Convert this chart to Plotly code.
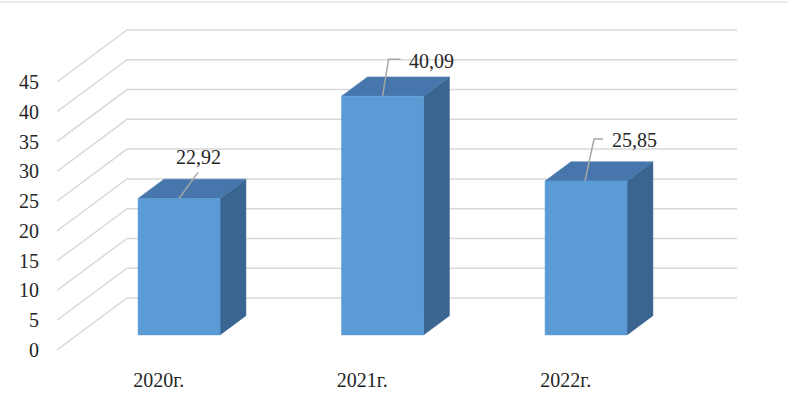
import plotly.graph_objects as go

# ---- data ----
categories = ["2020г.", "2021г.", "2022г."]
values = [22.92, 40.09, 25.85]
value_labels = ["22,92", "40,09", "25,85"]
y_ticks = [0, 5, 10, 15, 20, 25, 30, 35, 40, 45]

# ---- geometry / style constants ----
PX_PER_CAT = 203.5          # pixels per category unit
PX_PER_VAL = 5.956          # pixels per value unit
DEPTH_DX = 70 / PX_PER_CAT  # x shift (data units) for full depth
DEPTH_DY = 52 / PX_PER_VAL  # y shift (data units) for full depth
D_FRONT, D_BACK = 0.29, 0.66
HALF_W = 41 / PX_PER_CAT
X_MIN, X_MAX = -0.5, -0.5 + 680 / PX_PER_CAT
Y_MIN, Y_MAX = -10 / PX_PER_VAL, 350 / PX_PER_VAL

FRONT_C = "#5B9BD5"
TOP_C = "#4676AC"
SIDE_C = "#3B6591"
GRID_C = "#D9D9D9"
TEXT_C = "#262626"
FONT = "Liberation Serif"

# label leader offsets in pixels relative to bar top-front-centre (style/placement)
leader_px = [
    [(0, 0), (19, -26)],
    [(0, 0), (6, -37), (18, -37)],
    [(-1, 0), (8, -42), (17, -42)],
]
label_anchor = [("center", "bottom", 0, 2), ("left", "middle", 6, -2), ("left", "middle", 7, -1)]

fig = go.Figure()


def poly(xs, ys, color):
    fig.add_trace(go.Scatter(
        x=xs + [xs[0]], y=ys + [ys[0]], mode="lines", fill="toself",
        fillcolor=color, line=dict(color=color, width=0.5),
        hoverinfo="skip", showlegend=False))


# walls: left diagonals and back gridlines
for t in y_ticks:
    fig.add_trace(go.Scatter(
        x=[X_MIN, X_MIN + DEPTH_DX, X_MAX],
        y=[t, t + DEPTH_DY, t + DEPTH_DY],
        mode="lines", line=dict(color=GRID_C, width=1.5),
        hoverinfo="skip", showlegend=False))

# bars
for i, v in enumerate(values):
    fx = i + D_FRONT * DEPTH_DX
    fy = D_FRONT * DEPTH_DY
    bx = i + D_BACK * DEPTH_DX
    by = D_BACK * DEPTH_DY
    xl, xr = fx - HALF_W, fx + HALF_W
    bxl, bxr = bx - HALF_W, bx + HALF_W
    # side
    poly([xr, xr, bxr, bxr], [fy, fy + v, by + v, by], SIDE_C)
    # top
    poly([xl, xr, bxr, bxl], [fy + v, fy + v, by + v, by + v], TOP_C)
    # front
    poly([xl, xr, xr, xl], [fy, fy, fy + v, fy + v], FRONT_C)

    # leader line
    pts = leader_px[i]
    lx = [fx + dx / PX_PER_CAT for dx, dy in pts]
    ly = [fy + v - dy / PX_PER_VAL for dx, dy in pts]
    fig.add_trace(go.Scatter(x=lx, y=ly, mode="lines",
                             line=dict(color="#A6A6A6", width=1.5),
                             hoverinfo="skip", showlegend=False))
    xa, ya, xs, ys = label_anchor[i]
    fig.add_annotation(x=lx[-1], y=ly[-1], text=value_labels[i], showarrow=False,
                       xanchor=xa, yanchor=ya, xshift=xs, yshift=ys,
                       font=dict(family=FONT, size=20, color=TEXT_C))

# chart border top line
fig.add_shape(type="line", xref="paper", yref="paper", x0=-1, x1=2, y0=1 - 2 / 360, y1=1 - 2 / 360,
              line=dict(color="#E3E3E3", width=1.5))

fig.update_layout(
    width=788, height=399,
    margin=dict(l=57, r=51, t=0, b=39),
    paper_bgcolor="white", plot_bgcolor="white",
    font=dict(family=FONT, size=20, color=TEXT_C),
    xaxis=dict(range=[X_MIN, X_MAX], tickvals=[0, 1, 2], ticktext=categories,
               showgrid=False, zeroline=False, showline=False, ticks="",
               ticklabelstandoff=6, fixedrange=True,
               tickfont=dict(family=FONT, size=20, color=TEXT_C)),
    yaxis=dict(range=[Y_MIN, Y_MAX], tickvals=y_ticks,
               ticktext=[str(t) for t in y_ticks],
               showgrid=False, zeroline=False, showline=False, ticks="",
               ticklabelstandoff=17, fixedrange=True,
               tickfont=dict(family=FONT, size=20, color=TEXT_C)),
)

fig.write_html("out.html", config={"displayModeBar": False},
               post_script="document.body.style.margin='0';document.body.style.padding='0';")
